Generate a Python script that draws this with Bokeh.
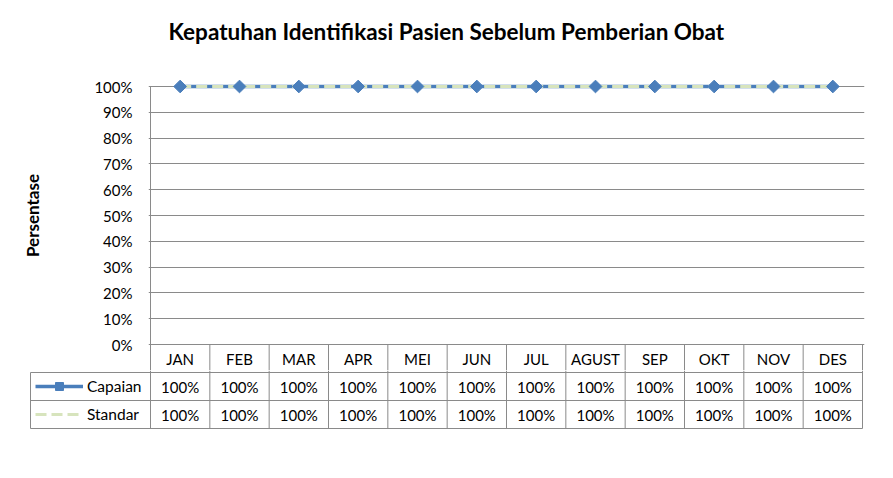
import math
from bokeh.plotting import figure
from bokeh.layouts import column
from bokeh.models import (Range1d, FixedTicker, PrintfTickFormatter, Legend, LegendItem,
                          ColumnDataSource)
from bokeh.core.properties import value
from bokeh.embed import file_html
from bokeh.resources import INLINE

# ---------------- data ----------------
months = ["JAN", "FEB", "MAR", "APR", "MEI", "JUN", "JUL", "AGUST", "SEP", "OKT", "NOV", "DES"]
capaian = [100, 100, 100, 100, 100, 100, 100, 100, 100, 100, 100, 100]
standar = [100, 100, 100, 100, 100, 100, 100, 100, 100, 100, 100, 100]
y_ticks = [0, 10, 20, 30, 40, 50, 60, 70, 80, 90, 100]
title_text = "Kepatuhan Identifikasi Pasien Sebelum Pemberian Obat"
y_title = "Persentase"
series_names = ["Capaian", "Standar"]

# ---------------- styling / layout ----------------
FONT = "Lato"
BLUE = "#4A7EBB"
GREEN = "#D7E4BD"
GRID = "#8A8A8A"
n = len(months)
PX_COL = 712 / n          # pixels per category column
PX_PCT = 2.58             # pixels per percent
W = 893

xs = [i + 0.5 for i in range(n)]
src = ColumnDataSource(dict(x=xs, month=months, capaian=capaian, standar=standar,
                            cap_txt=[f"{v}%" for v in capaian],
                            std_txt=[f"{v}%" for v in standar]))

# ================= chart (top) =================
p = figure(width=W, height=370, output_backend="svg", toolbar_location=None,
           x_range=Range1d(-2 / PX_COL, n + 2 / PX_COL),
           y_range=Range1d(-26 / PX_PCT, 100 + 26 / PX_PCT),
           x_axis_location=None, min_border_left=148, min_border_right=W - 864,
           min_border_top=60, min_border_bottom=0)
p.frame_align = False
p.outline_line_color = None
p.border_fill_color = "white"

p.title.text = title_text
p.title.text_font = FONT
p.title.text_font_size = "22.5px"
p.title.text_font_style = "bold"
p.title.text_color = "black"
p.title.align = "left"
p.title.offset = 20
p.title.standoff = 31

ax = p.yaxis[0]
ax.ticker = FixedTicker(ticks=y_ticks)
ax.formatter = PrintfTickFormatter(format="%d%%")
ax.axis_line_color = None
ax.major_tick_line_color = None
ax.minor_tick_line_color = None
ax.major_tick_out = 0
ax.major_tick_in = 0
ax.major_label_standoff = 16
ax.major_label_text_font = FONT
ax.major_label_text_font_size = "15px"
ax.major_label_text_color = "black"
ax.axis_label = y_title
ax.axis_label_text_font = FONT
ax.axis_label_text_font_size = "17px"
ax.axis_label_text_font_style = "bold"
ax.axis_label_text_color = "black"
ax.axis_label_standoff = 48

p.xgrid.visible = False
p.ygrid.ticker = FixedTicker(ticks=y_ticks)
p.ygrid.grid_line_color = GRID

bottom1 = -26 / PX_PCT
bounds = list(range(n + 1))
p.segment(x0=bounds, y0=[0] * (n + 1), x1=bounds, y1=[bottom1] * (n + 1),
          line_color=GRID, line_width=1)
p.segment(x0=[0], y0=[100], x1=[0], y1=[0], line_color=GRID, line_width=1)

r_cap_line = p.line("x", "capaian", source=src, line_color=BLUE, line_width=3.5)
r_std = p.line("x", "standar", source=src, line_color=GREEN, line_width=3, line_dash="11 5")
r_cap_pts = p.scatter("x", "capaian", source=src, marker="square", angle=math.pi / 4,
                      size=9, fill_color=BLUE, line_color=BLUE)

p.text(x="x", y=-14 / PX_PCT, text="month", source=src, text_font=value(FONT),
       text_font_size="15px", text_color="black", text_align="center",
       text_baseline="middle")

# ================= data table (bottom) =================
ROWPX = 28
t = figure(width=W, height=108, output_backend="svg", toolbar_location=None,
           x_range=Range1d(-150 / PX_COL, (W - 150) / PX_COL),
           y_range=Range1d(-106 / ROWPX, 2 / ROWPX),
           x_axis_location=None, y_axis_location=None,
           min_border_left=0, min_border_right=0, min_border_top=0, min_border_bottom=0)
t.frame_align = False
t.outline_line_color = None
t.grid.visible = False
t.border_fill_color = "white"

left_col = -120 / PX_COL
t.segment(x0=bounds, y0=[2 / ROWPX] * (n + 1), x1=bounds, y1=[-2] * (n + 1),
          line_color=GRID, line_width=1)
t.segment(x0=[left_col], y0=[0], x1=[left_col], y1=[-2], line_color=GRID, line_width=1)
t.segment(x0=[left_col] * 3, y0=[0, -1, -2], x1=[n] * 3, y1=[0, -1, -2],
          line_color=GRID, line_width=1)

for col, yc in (("cap_txt", -0.5), ("std_txt", -1.5)):
    t.text(x="x", y=yc, text=col, source=src, text_font=value(FONT), text_font_size="15px",
           text_color="black", text_align="center", text_baseline="middle")

# legend keys (same styles as the chart's series)
k_cap_line = t.line([0], [0], line_color=BLUE, line_width=3.5, visible=False)
k_cap_pts = t.scatter([0], [0], marker="square", angle=math.pi / 4, size=9,
                      fill_color=BLUE, line_color=BLUE, visible=False)
k_std = t.line([0], [0], line_color=GREEN, line_width=3, line_dash="11 5", visible=False)

legend = Legend(items=[LegendItem(label=series_names[0], renderers=[k_cap_line, k_cap_pts]),
                       LegendItem(label=series_names[1], renderers=[k_std])],
                location=(35, 54), orientation="vertical", glyph_width=48, glyph_height=20,
                label_height=20, label_standoff=4, spacing=8, padding=0, margin=0,
                border_line_color=None, background_fill_alpha=0,
                label_text_font=FONT, label_text_font_size="15.5px", label_text_color="black")
t.add_layout(legend)

layout = column(p, t, spacing=0)
open("out.html", "w").write(file_html(layout, INLINE))
